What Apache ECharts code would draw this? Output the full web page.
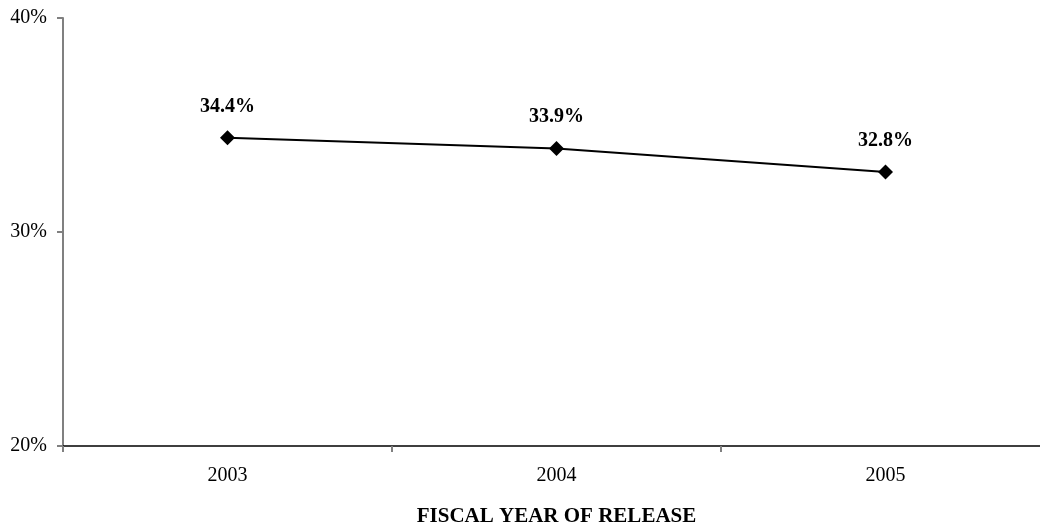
<!DOCTYPE html>
<html>
<head>
<meta charset="utf-8">
<script src="https://cdn.jsdelivr.net/npm/echarts@6/dist/echarts.min.js"></script>
<style>
  html, body { margin: 0; padding: 0; background: #ffffff; }
  #chart { width: 1040px; height: 525px; }
</style>
</head>
<body>
<div id="chart"></div>
<script>
// Share of releases by fiscal year
const years = ['2003', '2004', '2005'];
const shares = [34.4, 33.9, 32.8];
const yTicks = { min: 20, max: 40, step: 10 };
const axisTitle = 'FISCAL YEAR OF RELEASE';

const serif = '"Liberation Serif", "Times New Roman", serif';

const chart = echarts.init(document.getElementById('chart'), null, { renderer: 'canvas' });

chart.setOption({
  backgroundColor: '#ffffff',
  animation: false,
  grid: { left: 63, top: 18, width: 987, height: 428, containLabel: false, outerBoundsMode: 'none' },
  xAxis: {
    type: 'category',
    data: years,
    boundaryGap: true,
    axisLine: { show: true, lineStyle: { color: '#000000', width: 1.5 } },
    axisTick: { show: true, length: 6, lineStyle: { color: '#808080', width: 2 } },
    axisLabel: { color: '#000000', fontFamily: serif, fontSize: 20, margin: 20 },
    splitLine: { show: false },
    name: axisTitle,
    nameLocation: 'middle',
    nameGap: 60,
    nameTextStyle: { color: '#000000', fontFamily: serif, fontSize: 21, fontWeight: 'bold' }
  },
  yAxis: {
    type: 'value',
    min: yTicks.min,
    max: yTicks.max,
    interval: yTicks.step,
    axisLine: { show: true, lineStyle: { color: '#808080', width: 2 } },
    axisTick: { show: true, length: 6, lineStyle: { color: '#808080', width: 2 } },
    axisLabel: { color: '#000000', fontFamily: serif, fontSize: 20, margin: 16, formatter: '{value}%' },
    splitLine: { show: false }
  },
  series: [{
    type: 'line',
    data: shares,
    symbol: 'diamond',
    symbolSize: 15,
    lineStyle: { color: '#000000', width: 2 },
    itemStyle: { color: '#000000' },
    label: {
      show: true,
      position: 'top',
      distance: 14,
      color: '#000000',
      fontFamily: serif,
      fontSize: 20,
      fontWeight: 'bold',
      formatter: p => p.value.toFixed(1) + '%'
    }
  }]
});
</script>
</body>
</html>
